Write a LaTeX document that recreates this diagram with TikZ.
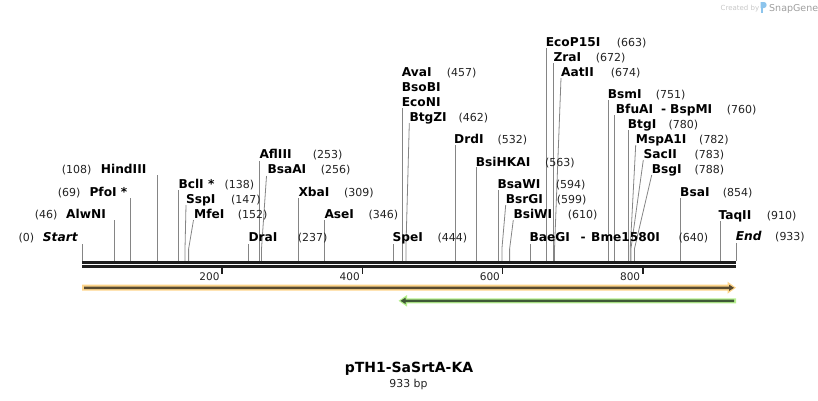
\documentclass[tikz,border=0pt]{standalone}
\usepackage{fontspec}
\setmainfont{DejaVu Sans}
\definecolor{siteline}{HTML}{858585}
\definecolor{numgray}{HTML}{222222}
\definecolor{bbone}{HTML}{1E1E1E}
\definecolor{orglow}{HTML}{FDD48A}
\definecolor{orline}{HTML}{584A30}
\definecolor{grglow}{HTML}{B6F08E}
\definecolor{grline}{HTML}{3E5836}
\definecolor{sglogo}{HTML}{8CC4EC}
\newcommand\lab[6]{%
  \node[nm] (#1) at (#2,#3+4.4) {#4};
  \node[ps] (#1n) at (#5,#3+4.4) {#6};}
\begin{document}
\begin{tikzpicture}[x=1pt,y=-1pt,
  nm/.style={font=\fontsize{12.2}{14}\selectfont\bfseries, inner sep=0pt, anchor=base west},
  ps/.style={font=\fontsize{11}{13}\selectfont, text=numgray, inner sep=0pt, anchor=base west},
  sl/.style={draw=siteline, line width=0.8pt},
  tk/.style={draw=bbone, line width=1.6pt},
  tkl/.style={font=\fontsize{10.5}{12}\selectfont, inner sep=0pt, anchor=base east, text=numgray}]
\useasboundingbox (0,0) rectangle (818,400);

% watermark
\node[font=\fontsize{7}{8}\selectfont, text=black!22, inner sep=0pt, anchor=base west] (cb) at (720.5,10) {Created by};
\fill[sglogo] (760.5,2) rectangle (763.2,13);
\fill[sglogo] (760.5,2) -- (764,2) .. controls (767.5,2) and (767.5,8) .. (764,8) -- (760.5,8) -- cycle;
\node[font=\fontsize{9.5}{10}\selectfont, text=black!38, inner sep=0pt, anchor=base west] (sg) at (769,11) {SnapGene};

% site lines (vertical)
\foreach \x/\t in {82/244,114.2/220,130.4/198,157.7/175,178.7/190,259.4/161,248.1/244,298.6/198,324.6/220,393.2/244,402.4/108,454.9/145,476.7/167,498.4/190,530.6/244,546.8/48,553.1/63,608.5/100,614.8/115,628.8/130,680.7/198,719.9/221,736/243}
  \draw[sl] (\x,261) -- (\x,\t);
% site lines (bent)
\foreach \x/\tx/\t in {185/186/205,188.6/193.5/220,261.5/266.5/176,405.9/409.3/123,501.9/505.7/205,509.6/513.3/220,554.5/561/78,630.2/635.7/145,630.9/643.3/160,634.4/651.7/175}
  \draw[sl] (\x,261) -- (\x,249) -- (\tx,\t);

% backbone
\fill[bbone] (82,261) rectangle (736,264);
\fill[bbone] (82,265) rectangle (736,267.8);

% ticks
\foreach \v in {200,400,600,800}{
  \draw[tk] ({82+\v*0.701},267) -- ({82+\v*0.701},273.5);
  \node[tkl] (t\v) at ({82+\v*0.701-2.5},280) {\v};
}

% left labels
\node[nm] (start) at (42.7,237+4.4) {\itshape Start};
\node[ps] (startn) at (18.3,237+4.4) {(0)};
\lab{alwni}{66}{214}{AlwNI}{34.7}{(46)}
\lab{pfoi}{89.3}{192}{PfoI *}{57.7}{(69)}
\lab{hind}{100.7}{169}{HindIII}{61.7}{(108)}

% right labels
\lab{bcli}{178.3}{184}{BclI *}{224.3}{(138)}
\lab{sspi}{186}{199}{SspI}{231}{(147)}
\lab{mfei}{194}{214}{MfeI}{237.7}{(152)}
\lab{afliii}{259.3}{154}{AflIII}{312.7}{(253)}
\lab{bsaai}{267.3}{169}{BsaAI}{320.7}{(256)}
\lab{drai}{248.3}{237}{DraI}{297.7}{(237)}
\lab{xbai}{298.3}{192}{XbaI}{344}{(309)}
\lab{asei}{324.3}{214}{AseI}{368.3}{(346)}
\lab{spei}{392.3}{237}{SpeI}{437.3}{(444)}
\lab{avai}{401.7}{72}{AvaI}{446.7}{(457)}
\node[nm] (bsobi) at (401.7,87+4.4) {BsoBI};
\node[nm] (econi) at (401.7,102+4.4) {EcoNI};
\lab{btgzi}{409.3}{117}{BtgZI}{458.3}{(462)}
\lab{drdi}{454}{139}{DrdI}{497.3}{(532)}
\lab{bsihkai}{475.7}{162}{BsiHKAI}{545}{(563)}
\lab{bsawi}{497.3}{184}{BsaWI}{555.7}{(594)}
\lab{bsrgi}{505.7}{199}{BsrGI}{556.7}{(599)}
\lab{bsiwi}{513.3}{214}{BsiWI}{567.7}{(610)}
\lab{baegi}{529.3}{237}{BaeGI}{678.3}{(640)}
\node[nm] (baegid) at (580.5,237+4.4) {-};
\node[nm] (bme) at (591,237+4.4) {Bme1580I};
\lab{ecop}{545.7}{42}{EcoP15I}{616.7}{(663)}
\lab{zrai}{553.3}{57}{ZraI}{595.7}{(672)}
\lab{aatii}{561}{72}{AatII}{610.7}{(674)}
\lab{bsmi}{607.7}{94}{BsmI}{655.7}{(751)}
\lab{bfuai}{615.7}{109}{BfuAI}{726.7}{(760)}
\node[nm] (bfuaid) at (661,109+4.4) {-};
\node[nm] (bspmi) at (670,109+4.4) {BspMI};
\lab{btgi}{627.7}{124}{BtgI}{668.3}{(780)}
\lab{mspa}{635.7}{139}{MspA1I}{699}{(782)}
\lab{sacii}{643.3}{154}{SacII}{694.3}{(783)}
\lab{bsgi}{651.7}{169}{BsgI}{694.3}{(788)}
\lab{bsai}{680}{192}{BsaI}{722.7}{(854)}
\lab{taqii}{718.3}{215}{TaqII}{766.7}{(910)}
\node[nm] (endl) at (735.7,236+4.4) {\itshape End};
\node[ps] (endn) at (775,236+4.4) {(933)};

% orange feature (forward)
\fill[orglow] (82,284.7) -- (727.5,284.7) -- (727.5,281.7) -- (736,287.7) -- (727.5,293.7) -- (727.5,290.7) -- (82,290.7) -- cycle;
\fill[orline] (84,286.6) -- (729,286.6) -- (729,284.6) -- (734,287.8) -- (729,291) -- (729,289) -- (84,289) -- cycle;

% green feature (reverse)
\fill[grglow] (736,298.3) -- (407,298.3) -- (407,295) -- (398.5,300.8) -- (407,306.6) -- (407,303.3) -- (736,303.3) -- cycle;
\fill[grline] (734,299.6) -- (405.5,299.6) -- (405.5,297.6) -- (400.5,300.8) -- (405.5,304) -- (405.5,302) -- (734,302) -- cycle;

% title
\node[font=\fontsize{14}{16}\selectfont\bfseries, inner sep=0pt] (title) at (409,369) {pTH1-SaSrtA-KA};
\node[font=\fontsize{10.9}{12}\selectfont, inner sep=0pt, text=numgray] (bp) at (408.5,384) {933 bp};
\end{tikzpicture}
\end{document}
